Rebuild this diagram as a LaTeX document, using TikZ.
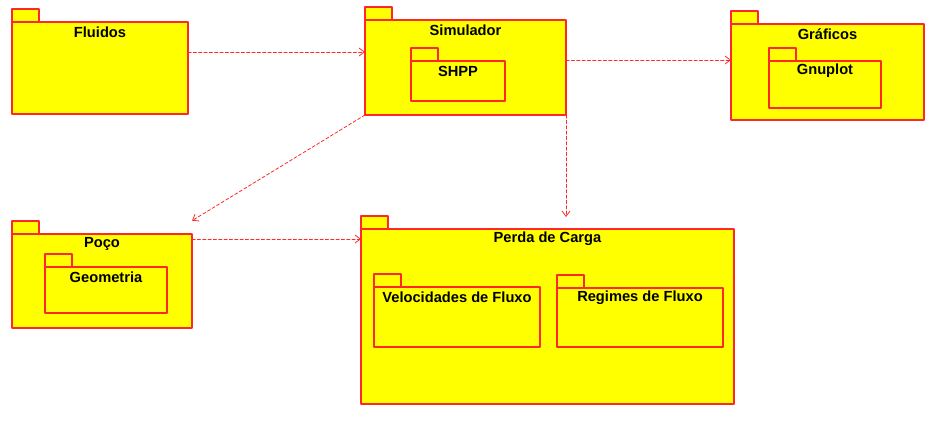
\documentclass[tikz,border=0pt]{standalone}
\usepackage{fontspec}
\setmainfont{Liberation Sans}
\usetikzlibrary{arrows.meta}
\definecolor{pkgred}{RGB}{255,40,40}
\definecolor{pkgyellow}{RGB}{255,255,0}
\begin{document}
\begin{tikzpicture}[x=0.75pt,y=-0.75pt, line join=round, line cap=round,
		font=\fontsize{11}{13}\selectfont\bfseries,
		pkg/.style={draw=pkgred, fill=pkgyellow, line width=0.8pt, inner sep=0pt, outer sep=0pt, anchor=north west},
		dep/.style={draw=pkgred, line width=0.6pt, dash pattern=on 2.4pt off 1.6pt, -{Straight Barb[length=4pt,width=6pt]}}]
	\useasboundingbox (0,0) rectangle (932,426);
	% packages: name/x/y/width/height/label (pixels)
	\foreach \n/\x/\y/\w/\h/\t in {flu/12/22/176/92/Fluidos,
			sim/365/20/201/95/Simulador,
			gra/731/24/193/96/Gráficos,
			poc/12/234/180/94/Poço,
			per/361/229/373/175/Perda de Carga,
			shpp/411/61/94/40/SHPP,
			gnu/769/61/112/47/Gnuplot,
			geo/45/267/122/46/Geometria,
			vel/374/287/166/60/Velocidades de Fluxo,
			reg/557/288/166/59/Regimes de Fluxo}
	{
		\draw[pkg] (\x,\y) rectangle ++(27,-13);
		\node[pkg, minimum width={\w*0.75pt}, minimum height={\h*0.75pt}] (\n) at (\x,\y) {};
		\node (\n-t) at ({\x+\w/2},{\y+10}) {\t};
	}
	% dependencies
	\draw[dep] ([yshift=12pt]flu.east) -- ([yshift=12pt]flu.east -| sim.west);
	\draw[dep] ([yshift=5.6pt]sim.east) -- ([yshift=5.6pt]sim.east -| gra.west);
	\draw[dep] (sim.south west) -- ([yshift=10pt]poc.north east);
	\draw[dep] (sim.south east) -- ([yshift=9pt]sim.south east |- per.north);
	\draw[dep] ([yshift=-3.75pt]poc.north east) -- ([yshift=-3.75pt]poc.north east -| per.west);
\end{tikzpicture}
\end{document}
